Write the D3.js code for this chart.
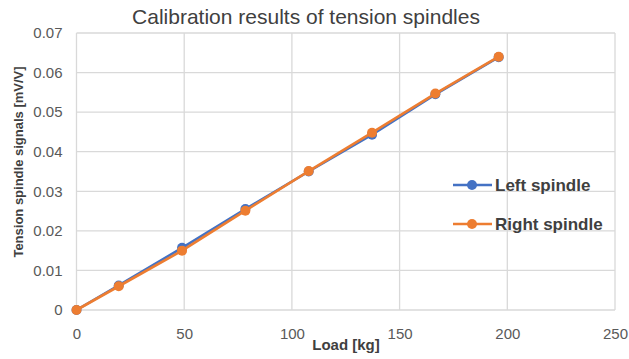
<!DOCTYPE html>
<html>
<head>
<meta charset="utf-8">
<script src="https://cdn.jsdelivr.net/npm/d3@7"></script>
<style>
  html, body { margin: 0; padding: 0; background: #fff; }
  svg { display: block; font-family: "Liberation Sans", Arial, sans-serif; }
</style>
</head>
<body>
<svg id="chart" width="629" height="359"></svg>
<script>
// Calibration loads (kg) and measured signals (mV/V)
const loads = [0, 19.6, 49, 78.4, 107.8, 137.2, 166.6, 196];
const leftSpindle = [0, 0.0062, 0.0157, 0.0255, 0.0350, 0.0443, 0.0545, 0.0639];
const rightSpindle = [0, 0.0060, 0.0150, 0.0251, 0.0351, 0.0448, 0.0547, 0.0640];
const xTicks = [0, 50, 100, 150, 200, 250];
const yTicks = [0, 0.01, 0.02, 0.03, 0.04, 0.05, 0.06, 0.07];
const seriesNames = ["Left spindle", "Right spindle"];
const seriesColors = ["#4472C4", "#ED7D31"];

const svg = d3.select("#chart");
const margin = { left: 76.5, right: 14, top: 33, bottom: 49 };
const W = 629, H = 359;

const x = d3.scaleLinear().domain([0, 250]).range([margin.left, W - margin.right]);
const y = d3.scaleLinear().domain([0, 0.07]).range([H - margin.bottom, margin.top]);

// Gridlines
const grid = svg.append("g").attr("stroke", "#d9d9d9").attr("stroke-width", 1.3);
grid.selectAll(".vx").data(xTicks).join("line")
  .attr("x1", d => x(d)).attr("x2", d => x(d))
  .attr("y1", y(0)).attr("y2", y(0.07));
grid.selectAll(".hy").data(yTicks).join("line")
  .attr("x1", x(0)).attr("x2", x(250))
  .attr("y1", d => y(d)).attr("y2", d => y(d));

// Axes (tick labels only)
const xAxis = svg.append("g")
  .attr("transform", `translate(0,${y(0)})`)
  .call(d3.axisBottom(x).tickValues(xTicks).tickSize(0).tickPadding(18).tickFormat(d3.format("d")));
const yAxis = svg.append("g")
  .attr("transform", `translate(${x(0)},0)`)
  .call(d3.axisLeft(y).tickValues(yTicks).tickSize(0).tickPadding(14)
    .tickFormat(d => d === 0 ? "0" : d3.format(".2f")(d)));
[xAxis, yAxis].forEach(a => {
  a.select(".domain").remove();
  a.selectAll("text").attr("fill", "#595959").style("font-size", "15px")
    .style("font-family", '"Liberation Sans", Arial, sans-serif');
});

// Series
const series = [leftSpindle, rightSpindle];
const line = d3.line().x((d, i) => x(loads[i])).y(d => y(d));
series.forEach((vals, s) => {
  const g = svg.append("g");
  g.append("path").datum(vals)
    .attr("fill", "none").attr("stroke", seriesColors[s]).attr("stroke-width", 2.6)
    .attr("d", line);
  g.selectAll("circle").data(vals).join("circle")
    .attr("cx", (d, i) => x(loads[i])).attr("cy", d => y(d))
    .attr("r", 5).attr("fill", seriesColors[s]);
});

// Title
svg.append("text").attr("x", 306).attr("y", 24).attr("text-anchor", "middle")
  .attr("fill", "#404040").style("font-size", "21px")
  .text("Calibration results of tension spindles");

// Axis titles
svg.append("text").attr("x", 346).attr("y", 350).attr("text-anchor", "middle")
  .attr("fill", "#404040").style("font-size", "15px").style("font-weight", "bold")
  .text("Load [kg]");
svg.append("text").attr("transform", "translate(23,162) rotate(-90)")
  .attr("text-anchor", "middle").attr("fill", "#404040")
  .style("font-size", "13px").style("font-weight", "bold")
  .text("Tension spindle signals [mV/V]");

// Legend
const legend = svg.append("g");
seriesNames.forEach((name, s) => {
  const ly = 185 + s * 39;
  legend.append("line").attr("x1", 453).attr("x2", 492).attr("y1", ly).attr("y2", ly)
    .attr("stroke", seriesColors[s]).attr("stroke-width", 2.6);
  legend.append("circle").attr("cx", 472).attr("cy", ly).attr("r", 5).attr("fill", seriesColors[s]);
  legend.append("text").attr("x", 495).attr("y", ly + 6)
    .attr("fill", "#404040").style("font-size", "17px").style("font-weight", "bold")
    .text(name);
});
</script>
</body>
</html>
